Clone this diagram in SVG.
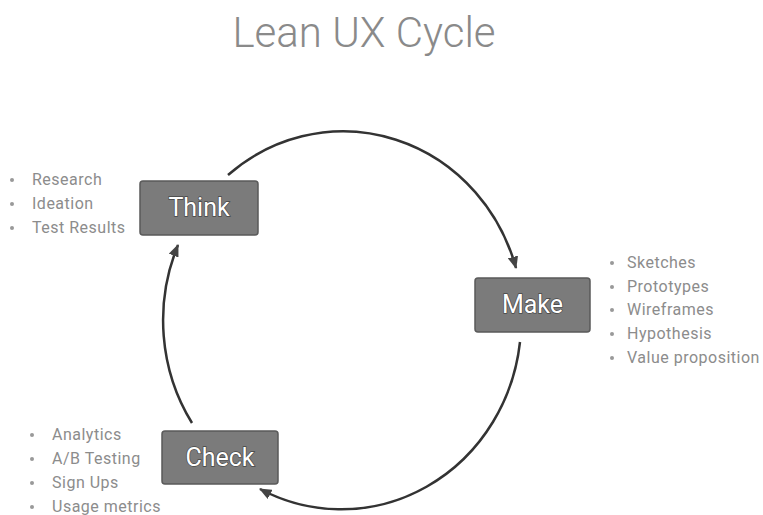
<svg xmlns="http://www.w3.org/2000/svg" width="763" height="515" viewBox="0 0 763 515">
<style>
.title{font-family:Roboto,"Liberation Sans",sans-serif;font-weight:300;font-size:42px;fill:#8a8a8a}
.box{fill:#7b7b7b;stroke:#5a5a5a;stroke-width:1.5}
.lbl{font-family:Roboto,"Liberation Sans",sans-serif;font-size:25px;fill:#ffffff;stroke:#474747;stroke-width:1.4;paint-order:stroke;text-anchor:middle}
.item{font-family:Roboto,"Liberation Sans",sans-serif;font-size:16px;letter-spacing:0.5px;fill:#8c8c8c}
.dot{fill:#999}
.conn{fill:none;stroke:#333;stroke-width:2.5}
</style>
<defs>
<marker id="ah" viewBox="0 0 12 10" refX="11" refY="5" markerWidth="5" markerHeight="4.2" orient="auto" markerUnits="strokeWidth">
<path d="M0,0 L12,5 L0,10 z" fill="#444"/>
</marker>
</defs>
<rect width="763" height="515" fill="#fff"/>
<text class="title" x="364" y="47" text-anchor="middle">Lean UX Cycle</text>
<g id="connectors">
<path class="conn" marker-end="url(#ah)" d="M228,175 A180,189 0 0 1 516,268"/>
<path class="conn" marker-end="url(#ah)" d="M520,342 A180,189 0 0 1 260,489"/>
<path class="conn" marker-end="url(#ah)" d="M192,423 A180,189 0 0 1 178,245"/>
</g>
<g id="think">
<rect class="box" x="140" y="181" width="118" height="54" rx="3"/>
<text class="lbl" x="199" y="216">Think</text>
</g>
<g id="make">
<rect class="box" x="475" y="278" width="115" height="54" rx="3"/>
<text class="lbl" x="532.5" y="313">Make</text>
</g>
<g id="check">
<rect class="box" x="162" y="431" width="116" height="53" rx="3"/>
<text class="lbl" x="220" y="466">Check</text>
</g>
<g id="think-list">
<circle class="dot" cx="12" cy="180" r="2"/><text class="item" x="32" y="185">Research</text>
<circle class="dot" cx="12" cy="204" r="2"/><text class="item" x="32" y="209">Ideation</text>
<circle class="dot" cx="12" cy="228" r="2"/><text class="item" x="32" y="233">Test Results</text>
</g>
<g id="make-list">
<circle class="dot" cx="612" cy="263" r="2"/><text class="item" x="627" y="268">Sketches</text>
<circle class="dot" cx="612" cy="287" r="2"/><text class="item" x="627" y="292">Prototypes</text>
<circle class="dot" cx="612" cy="310" r="2"/><text class="item" x="627" y="315">Wireframes</text>
<circle class="dot" cx="612" cy="334" r="2"/><text class="item" x="627" y="339">Hypothesis</text>
<circle class="dot" cx="612" cy="358" r="2"/><text class="item" x="627" y="363">Value proposition</text>
</g>
<g id="check-list">
<circle class="dot" cx="32" cy="435" r="2"/><text class="item" x="52" y="440">Analytics</text>
<circle class="dot" cx="32" cy="459" r="2"/><text class="item" x="52" y="464">A/B Testing</text>
<circle class="dot" cx="32" cy="483" r="2"/><text class="item" x="52" y="488">Sign Ups</text>
<circle class="dot" cx="32" cy="507" r="2"/><text class="item" x="52" y="512">Usage metrics</text>
</g>
</svg>
